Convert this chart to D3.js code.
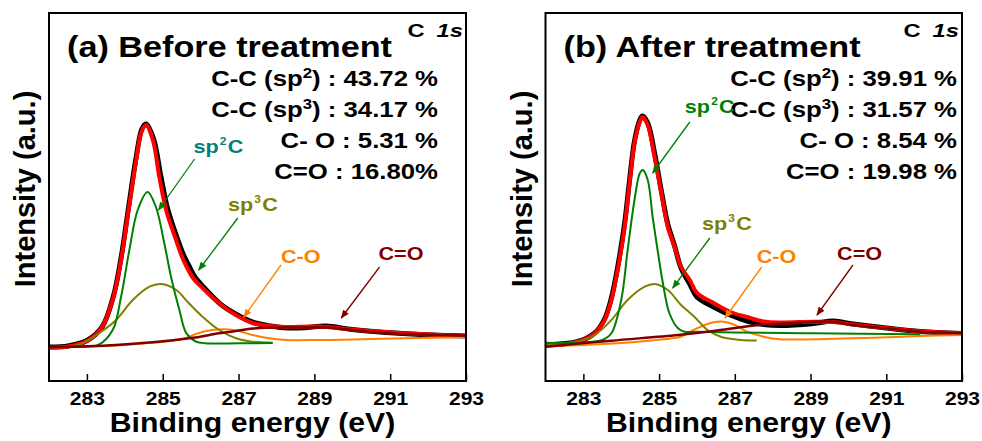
<!DOCTYPE html>
<html>
<head>
<meta charset="utf-8">
<script src="https://cdn.jsdelivr.net/npm/d3@7"></script>
<style>
  body { margin: 0; background: #fff; }
  text { font-family: "Liberation Sans", Arial, sans-serif; font-weight: bold; }
</style>
</head>
<body>
<svg id="chart"></svg>
<script>
// x ticks (binding energy, eV)
let energyTicks = [283, 285, 287, 289, 291, 293];

// (a) before treatment : [binding energy, intensity a.u.]
let beforeRaw = [[282.0,34],[282.5,35],[283.0,40.5],[283.4,54],[283.7,85],[283.9,123],[284.1,174],[284.3,224],[284.45,252],[284.56,257],[284.76,242],[284.95,205],[285.13,172],[285.4,141],[285.55,126],[285.68,116],[285.85,104],[286.1,93],[286.52,77],[286.97,66],[287.4,58.5],[287.85,55],[288.3,53],[288.8,53.5],[289.3,55],[290.0,51.5],[290.9,48.5],[291.8,46.5],[293.0,45]];
let beforeFit = [[282.0,33.5],[282.5,34.5],[283.0,40],[283.4,54],[283.7,84],[283.9,121],[284.1,171],[284.3,221],[284.43,248],[284.56,256],[284.74,241],[284.91,204],[285.09,171],[285.36,140],[285.5,125],[285.62,115],[285.8,103],[286.05,93],[286.48,78],[286.93,66],[287.37,58],[287.81,55],[288.25,54],[289.13,54.5],[289.97,51.5],[290.85,49],[291.75,47],[293.0,45]];
let beforeSp2 = [[282.0,34],[283.0,34.5],[283.3,36],[283.68,51],[283.9,84],[284.12,131],[284.34,171],[284.6,189],[284.82,174],[285.04,138],[285.22,104],[285.44,71],[285.62,48],[285.87,39.5],[286.13,37.7],[287.0,37.7],[287.9,38]];
let beforeSp3 = [[282.0,34],[282.6,35],[282.88,37.7],[283.32,47.7],[283.77,61],[284.21,81],[284.65,94.3],[284.96,97],[285.36,91],[285.66,79],[286.05,64.3],[286.49,51],[286.93,42.7],[287.37,39.3],[287.9,38.3]];
let beforeCO = [[282.0,33.5],[283.0,34.5],[284.0,36],[284.8,38.5],[285.3,40.5],[285.6,42.7],[285.87,47],[286.3,51],[286.65,51.7],[287.0,50],[287.37,46],[287.8,42.7],[288.25,41],[289.13,41],[290.0,41.5],[291.4,42.7],[293.0,43.7]];
let beforeCdO = [[282.0,33.7],[283.77,36],[285.7,42.7],[286.48,47.7],[286.93,50],[287.37,52.5],[287.8,53.3],[288.5,53.5],[289.3,53.5],[290.0,51],[290.85,48],[291.75,46.5],[293.0,45.3]];

// (b) after treatment
let afterRaw = [[282.0,36],[282.86,39.5],[283.3,48],[283.56,62],[283.74,83],[283.92,117],[284.09,158],[284.22,201],[284.35,240],[284.49,261],[284.56,265],[284.7,258],[284.88,228],[285.06,190],[285.23,157],[285.41,135],[285.58,113],[285.81,97],[286.0,84],[286.44,74],[286.88,66],[287.32,60],[287.76,56.5],[288.2,55.5],[289.08,57.5],[289.6,60],[290.12,57],[291.0,53],[291.9,49.5],[293.0,47.5]];
let afterFit = [[282.0,36],[282.86,39.3],[283.3,47.7],[283.56,61],[283.74,81],[283.92,114],[284.09,154],[284.22,198],[284.35,238],[284.49,259],[284.56,264],[284.7,256],[284.88,224],[285.06,188],[285.23,154],[285.41,134],[285.58,114],[285.81,101],[286.0,88],[286.44,78],[286.88,69],[287.32,64],[287.76,59.5],[288.2,58.5],[289.08,59.3],[289.6,59],[290.12,56.5],[291.0,53],[291.9,49.7],[293.0,47.7]];
let afterSp2 = [[282.0,38.3],[283.0,38.5],[283.5,41],[283.74,47.7],[284.0,81],[284.17,131],[284.35,181],[284.49,207.7],[284.57,211],[284.7,201],[284.83,164],[284.96,131],[285.1,98],[285.27,68],[285.5,52.7],[285.67,49.3],[286.0,49.3],[287.0,48.5],[289.08,47.7],[291.9,46.7]];
let afterSp3 = [[282.0,36],[282.86,39.5],[283.3,46],[283.74,61],[284.17,81],[284.62,94.3],[284.88,97],[285.23,91],[285.58,76],[285.93,64.3],[286.28,51],[286.63,44.3],[287.16,41],[287.58,40.5]];
let afterCO = [[282.0,35],[283.0,36],[284.0,38],[284.8,40.5],[285.3,42.5],[285.58,44.3],[285.81,49],[286.0,52.7],[286.44,58.7],[286.7,59.3],[287.0,56],[287.32,49.3],[287.76,44.3],[288.2,41.7],[289.08,41.7],[290.12,42.7],[291.0,43.7],[291.9,45],[293.0,46]];
let afterCdO = [[282.0,34.3],[283.74,40.3],[285.5,46],[286.44,50],[287.2,54],[287.75,56.5],[288.45,57.7],[289.5,59.5],[290.12,56],[291.0,52.7],[291.9,49.3],[293.0,47.7]];

// composition text
let beforeStats = [["C-C (sp", "2", ") : 43.72 %"], ["C-C (sp", "3", ") : 34.17 %"], ["C- O : 5.31 %"], ["C=O : 16.80%"]];
let afterStats = [["C-C (sp", "2", ") : 39.91 %"], ["C-C (sp", "3", ") : 31.57 %"], ["C- O : 8.54 %"], ["C=O : 19.98 %"]];

// annotations: label anchor [E, I], arrow from [E, I] to [E, I]
let beforeNotes = [
  {label: ["sp", "2", "C"], at: [285.81, 228], from: [285.84, 222], to: [284.89, 171], text: "#008080", arrow: "#008000"},
  {label: ["sp", "3", "C"], at: [286.72, 170], from: [286.98, 163], to: [285.95, 111], text: "#808000", arrow: "#008000"},
  {label: ["C-O"], at: [288.12, 118], from: [288.12, 116], to: [287.14, 64], text: "#ff8000", arrow: "#ff8000"},
  {label: ["C=O"], at: [290.69, 121], from: [290.72, 114], to: [289.71, 63], text: "#800000", arrow: "#800000"}
];
let afterNotes = [
  {label: ["sp", "2", "C"], at: [285.68, 268], from: [285.81, 259], to: [284.83, 208], text: "#008000", arrow: "#008000"},
  {label: ["sp", "3", "C"], at: [286.13, 151], from: [286.34, 143], to: [285.36, 93], text: "#808000", arrow: "#008000"},
  {label: ["C-O"], at: [287.58, 118], from: [287.71, 114], to: [286.74, 63], text: "#ff8000", arrow: "#ff8000"},
  {label: ["C=O"], at: [289.7, 121], from: [290.12, 116], to: [289.17, 66], text: "#800000", arrow: "#800000"}
];

let width = 982;
let height = 441;
let plotTop = 13;
let plotBottom = 381;

let svg = d3.select("#chart").attr("width", width).attr("height", height);

let defs = svg.append("defs");
["#008000", "#ff8000", "#800000"].forEach(function (c) {
  defs.append("marker")
    .attr("id", "arrow" + c.slice(1))
    .attr("viewBox", "0 0 10 8")
    .attr("refX", 9).attr("refY", 4)
    .attr("markerWidth", 9).attr("markerHeight", 7)
    .attr("markerUnits", "userSpaceOnUse")
    .attr("orient", "auto")
    .append("path").attr("d", "M0,0 L10,4 L0,8 z").attr("fill", c);
});

// the figure's lettering is wider than Arial, so stretch it horizontally
function placeText(g, x, y, size, sx) {
  return g.append("text")
    .attr("transform", "translate(" + x + "," + y + ") scale(" + sx + ",1)")
    .attr("font-size", size);
}

function drawPanel(id, x0, x1, title, stats, statsPad, curves, notes) {
  let x = d3.scaleLinear().domain([282, 293]).range([x0, x1]);
  let y = d3.scaleLinear().domain([0, 368]).range([plotBottom, plotTop]);
  let g = svg.append("g");

  defs.append("clipPath").attr("id", "clip" + id)
    .append("rect").attr("x", x0).attr("y", plotTop).attr("width", x1 - x0).attr("height", plotBottom - plotTop);

  let line = d3.line()
    .x((d) => x(d[0]))
    .y((d) => y(d[1]))
    .curve(d3.curveCatmullRom.alpha(0.5));

  let plot = g.append("g").attr("clip-path", "url(#clip" + id + ")");
  curves.forEach(function (c) {
    plot.append("path")
      .attr("d", line(c.data))
      .attr("fill", "none")
      .attr("stroke", c.color)
      .attr("stroke-width", c.w)
      .attr("stroke-linejoin", "round");
  });

  // frame
  g.append("rect")
    .attr("x", x0).attr("y", plotTop)
    .attr("width", x1 - x0).attr("height", plotBottom - plotTop)
    .attr("fill", "none").attr("stroke", "#000").attr("stroke-width", 2);

  // bottom axis, ticks inside
  let axis = g.append("g")
    .attr("transform", "translate(0," + plotBottom + ")")
    .call(d3.axisBottom(x).tickValues(energyTicks).tickSizeInner(-7).tickSizeOuter(0).tickPadding(11));
  axis.select(".domain").remove();
  axis.selectAll("line").attr("stroke-width", 1.5);
  axis.selectAll("text")
    .attr("font-size", 18)
    .attr("font-family", "'Liberation Sans', Arial, sans-serif")
    .attr("font-weight", "bold")
    .attr("fill", "#000")
    .attr("transform", "scale(1.17,1)");

  placeText(g, (x0 + x1) / 2 - 5, 432, 27, 1.12)
    .attr("text-anchor", "middle")
    .text("Binding energy (eV)");

  g.append("text")
    .attr("transform", "translate(" + (x0 - 14) + ",189) rotate(-90)")
    .attr("text-anchor", "middle").attr("font-size", 29)
    .text("Intensity (a.u.)");

  // title
  placeText(g, x0 + 18, 57, 29, 1.18).text(title);

  let c1s = placeText(g, x1 - 3, 37, 18, 1.32).attr("text-anchor", "end");
  c1s.append("tspan").text("C");
  c1s.append("tspan").attr("dx", 9).attr("font-style", "italic").text("1s");

  // composition lines
  stats.forEach(function (s, i) {
    let t = placeText(g, x1 - statsPad, 86 + i * 31, 23, 1.12).attr("text-anchor", "end");
    t.append("tspan").text(s[0]);
    if (s.length > 1) {
      t.append("tspan").attr("font-size", 15).attr("dy", -8).text(s[1]);
      t.append("tspan").attr("dy", 8).text(s[2]);
    }
  });

  // peak labels with arrows
  notes.forEach(function (n) {
    g.append("line")
      .attr("x1", x(n.from[0])).attr("y1", y(n.from[1]))
      .attr("x2", x(n.to[0])).attr("y2", y(n.to[1]))
      .attr("stroke", n.arrow).attr("stroke-width", 1.3)
      .attr("marker-end", "url(#arrow" + n.arrow.slice(1) + ")");
    let t = placeText(g, x(n.at[0]), y(n.at[1]), 18, 1.2).attr("fill", n.text);
    t.append("tspan").text(n.label[0]);
    if (n.label.length > 1) {
      t.append("tspan").attr("font-size", 10).attr("dy", -8).attr("dx", 1).text(n.label[1]);
      t.append("tspan").attr("dy", 8).attr("dx", 1).text(n.label[2]);
    }
  });
}

drawPanel("a", 49, 466, "(a) Before treatment", beforeStats, 28, [
  {data: beforeRaw, color: "#000", w: 5},
  {data: beforeFit, color: "#ff0000", w: 4},
  {data: beforeCO, color: "#ff8000", w: 2},
  {data: beforeSp3, color: "#808000", w: 2},
  {data: beforeSp2, color: "#008000", w: 2},
  {data: beforeCdO, color: "#800000", w: 2.5}
], beforeNotes);

drawPanel("b", 545.5, 962, "(b) After treatment", afterStats, 5, [
  {data: afterRaw, color: "#000", w: 5},
  {data: afterFit, color: "#ff0000", w: 4},
  {data: afterCO, color: "#ff8000", w: 2},
  {data: afterSp3, color: "#808000", w: 2},
  {data: afterSp2, color: "#008000", w: 2},
  {data: afterCdO, color: "#800000", w: 2.5}
], afterNotes);
</script>
</body>
</html>
